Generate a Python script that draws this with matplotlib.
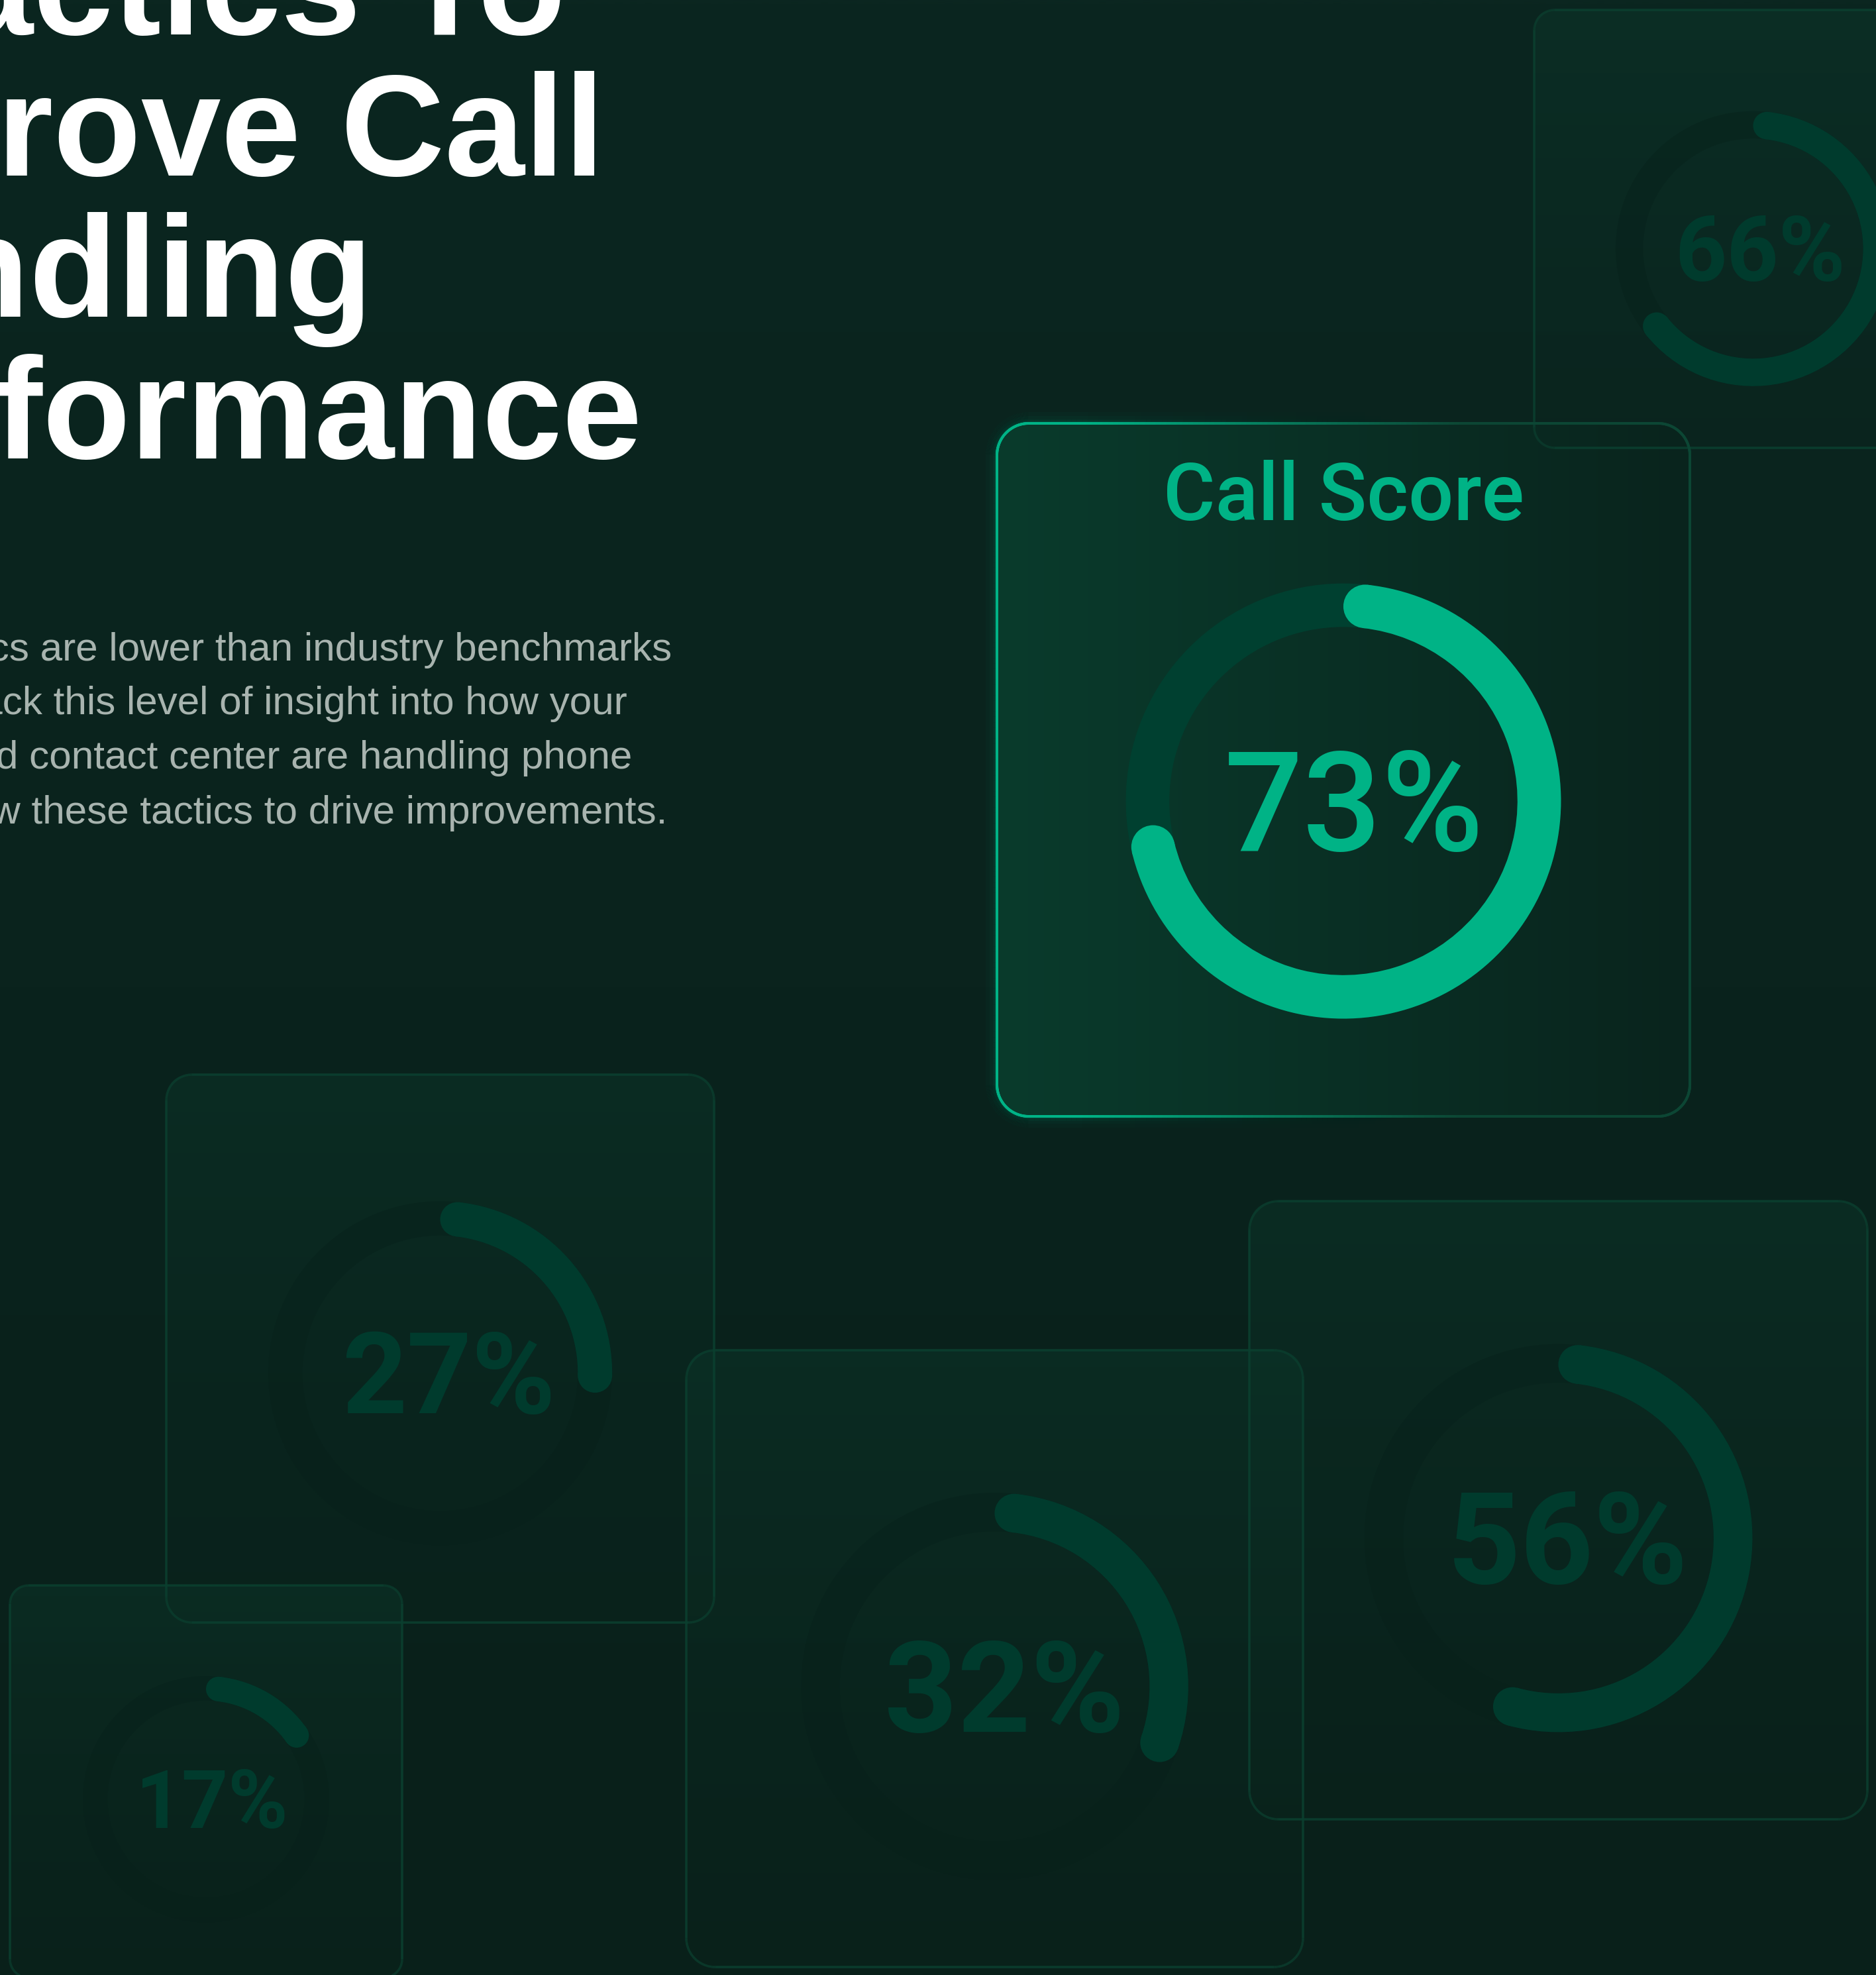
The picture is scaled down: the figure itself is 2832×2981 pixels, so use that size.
import numpy as np
import matplotlib
matplotlib.use("Agg")
import matplotlib.pyplot as plt
from matplotlib.patches import FancyBboxPatch, Wedge, Circle
from matplotlib.collections import LineCollection
from matplotlib.colors import to_rgb

#--------------#
#--- Data ---#
#--------------#
title_lines = ["Tactics To", "Improve Call", "Handling", "Performance"]
body_lines = ["metrics are lower than industry benchmarks",
              "lack this level of insight into how your",
              "and contact center are handling phone",
              "follow these tactics to drive improvements."]
card_title = "Call Score"
scores = [73, 66, 27, 17, 32, 56]          # first one is the highlighted card

#--- layout (pixels, y grows downward) ---#
W, H = 2832, 2981
title_right = [854, 912, 563, 970]
title_base = [52, 265, 478, 692]
body_right = [1014, 947, 954, 1007]
body_base = [997, 1078, 1160, 1243]
card_x = [1505, 2316, 251, 15, 1036, 1886]
card_y = [639, 15, 1622, 2393, 2038, 1813]
card_s = [1046, 661, 827, 592, 931, 933]

#--- colours ---#
BG_TOP, BG_BOT = "#0b2620", "#09201a"
BRIGHT = "#00b386"
BRIGHT_TRACK = "#004030"
FADED = "#003b2d"
FADED_TRACK = "#07201a"
FADED_EDGE = "#0b3f2f"
BODY_GREY = "#a8b4af"

PX = 0.72   # points per pixel at dpi 100

fig = plt.figure(figsize=(W / 100, H / 100), dpi=100)
ax = fig.add_axes([0, 0, 1, 1])
ax.axis("off")


def rgba_ramp(c0, c1, a0, a1, n=256):
    t = np.linspace(0, 1, n)[:, None]
    c = np.array(to_rgb(c0)) * (1 - t) + np.array(to_rgb(c1)) * t
    a = a0 * (1 - t[:, 0]) + a1 * t[:, 0]
    return np.concatenate([c, a[:, None]], axis=1)


def grad_rect(x, y, w, h, c0, c1, a0, a1, horizontal, clip=None, z=1):
    ramp = rgba_ramp(c0, c1, a0, a1)
    img = ramp[None, :, :] if horizontal else ramp[:, None, :]
    im = ax.imshow(img, extent=(x, x + w, y + h, y), origin="upper",
                   interpolation="bilinear", aspect="auto", zorder=z)
    if clip is not None:
        im.set_clip_path(clip)
    return im


def rrect_points(x, y, w, h, r, n=40):
    pts = []
    corners = [((x + r, y + r), 180, 270), ((x + w - r, y + r), 270, 360),
               ((x + w - r, y + h - r), 0, 90), ((x + r, y + h - r), 90, 180)]
    for (cx, cy), a0, a1 in corners:
        a = np.radians(np.linspace(a0, a1, n))
        pts.append(np.column_stack([cx + r * np.cos(a), cy + r * np.sin(a)]))
    pts = np.vstack(pts)
    # densify straight edges so colour can vary along them
    out = []
    for p, q in zip(pts, np.vstack([pts[1:], pts[:1]])):
        k = max(2, int(np.hypot(*(q - p)) / 8))
        out.append(np.linspace(p, q, k, endpoint=False))
    return np.vstack(out + [pts[:1]])


def segs(pts):
    return np.stack([pts[:-1], pts[1:]], axis=1)


#--- background ---#
grad_rect(0, 0, W, H, BG_TOP, BG_BOT, 1, 1, horizontal=False, z=0)

#--- cards ---#
for i, (x, y, s) in enumerate(zip(card_x, card_y, card_s)):
    r = 0.047 * s if i else 48
    patch = FancyBboxPatch((x, y), s, s, boxstyle=f"round,pad=0,rounding_size={r}",
                           facecolor="none", edgecolor="none", zorder=1)
    ax.add_patch(patch)
    if i == 0:
        grad_rect(x, y, s, s, "#0a3b2c", "#09241d", 1, 1, horizontal=True, clip=patch, z=1.2)
    else:
        grad_rect(x, y, s, s, "#0e3d2f", "#0c2e24", 0.38, 0.08, horizontal=False, clip=patch, z=1)

    pts = rrect_points(x, y, s, s, r)
    sg = segs(pts)
    if i == 0:
        t = np.clip(((sg[:, 0, 0] - x) / s - 0.12) / 0.55, 0, 1)[:, None]
        col = np.array(to_rgb(BRIGHT)) * (1 - t) + np.array(to_rgb("#0c4634")) * t
        # soft glow on the lit side
        for lw, a in [(34, 0.03), (22, 0.04), (13, 0.055), (8, 0.075)]:
            glow = np.concatenate([np.tile(to_rgb(BRIGHT), (len(sg), 1)),
                                   (a * (1 - t[:, 0]) ** 2)[:, None]], axis=1)
            ax.add_collection(LineCollection(sg, colors=glow, linewidths=lw * PX,
                                             capstyle="butt", zorder=1.1))
        ax.add_collection(LineCollection(sg, colors=col, linewidths=4 * PX,
                                         capstyle="round", zorder=2.2))
    else:
        ax.add_collection(LineCollection(sg, colors=FADED_EDGE, linewidths=3.5 * PX,
                                         alpha=0.9, zorder=2))

#--- rings and labels ---#
for i, (x, y, s, v) in enumerate(zip(card_x, card_y, card_s, scores)):
    cx, cy = x + 0.5 * s, y + 0.545 * s
    r_out = 0.314 * s
    w = 0.2 * r_out
    r_mid = r_out - w / 2
    arc_col = BRIGHT if i == 0 else FADED
    trk_col = BRIGHT_TRACK if i == 0 else FADED_TRACK
    ax.add_patch(Wedge((cx, cy), r_out, 0, 360, width=w, facecolor=trk_col,
                       edgecolor="none", alpha=1 if i == 0 else 0.4, zorder=3))
    cap = np.degrees((w / 2) / r_mid)
    phi0, phi1 = cap, v * 3.6 - cap
    ax.add_patch(Wedge((cx, cy), r_out, phi0 - 90, phi1 - 90, width=w,
                       facecolor=arc_col, edgecolor="none", zorder=3.1))
    for phi in (phi0, phi1):
        th = np.radians(phi - 90)
        ax.add_patch(Circle((cx + r_mid * np.cos(th), cy + r_mid * np.sin(th)), w / 2,
                            facecolor=arc_col, edgecolor="none", zorder=3.1))
    dh = (0.1425 if i == 0 else 0.147) * s
    ax.text(cx + 0.05 * r_out, cy + dh / 2, f"{v}%", ha="center", va="baseline",
            fontsize=dh / 0.711 * PX, family="Roboto",
            fontweight="medium" if i == 0 else "semibold",
            color=arc_col, zorder=4)
    if i == 0:
        ax.text(cx, y + 0.14 * s, card_title, ha="center", va="baseline",
                fontsize=120 * PX, family="Roboto", fontweight="medium",
                color=BRIGHT, zorder=4)

#--- headline and body copy (cut by the left edge, as in the source) ---#
for txt, xr, yb in zip(title_lines, title_right, title_base):
    ax.text(xr, yb, txt, ha="right", va="baseline", fontsize=217 * PX,
            family="Liberation Sans", fontweight="bold", color="white", zorder=4)
for txt, xr, yb in zip(body_lines, body_right, body_base):
    ax.text(xr, yb, txt, ha="right", va="baseline", fontsize=60.3 * PX,
            family="Liberation Sans", color=BODY_GREY, zorder=4)

ax.set_xlim(0, W)
ax.set_ylim(H, 0)
fig.savefig("out.png", dpi=100, facecolor=BG_TOP)
